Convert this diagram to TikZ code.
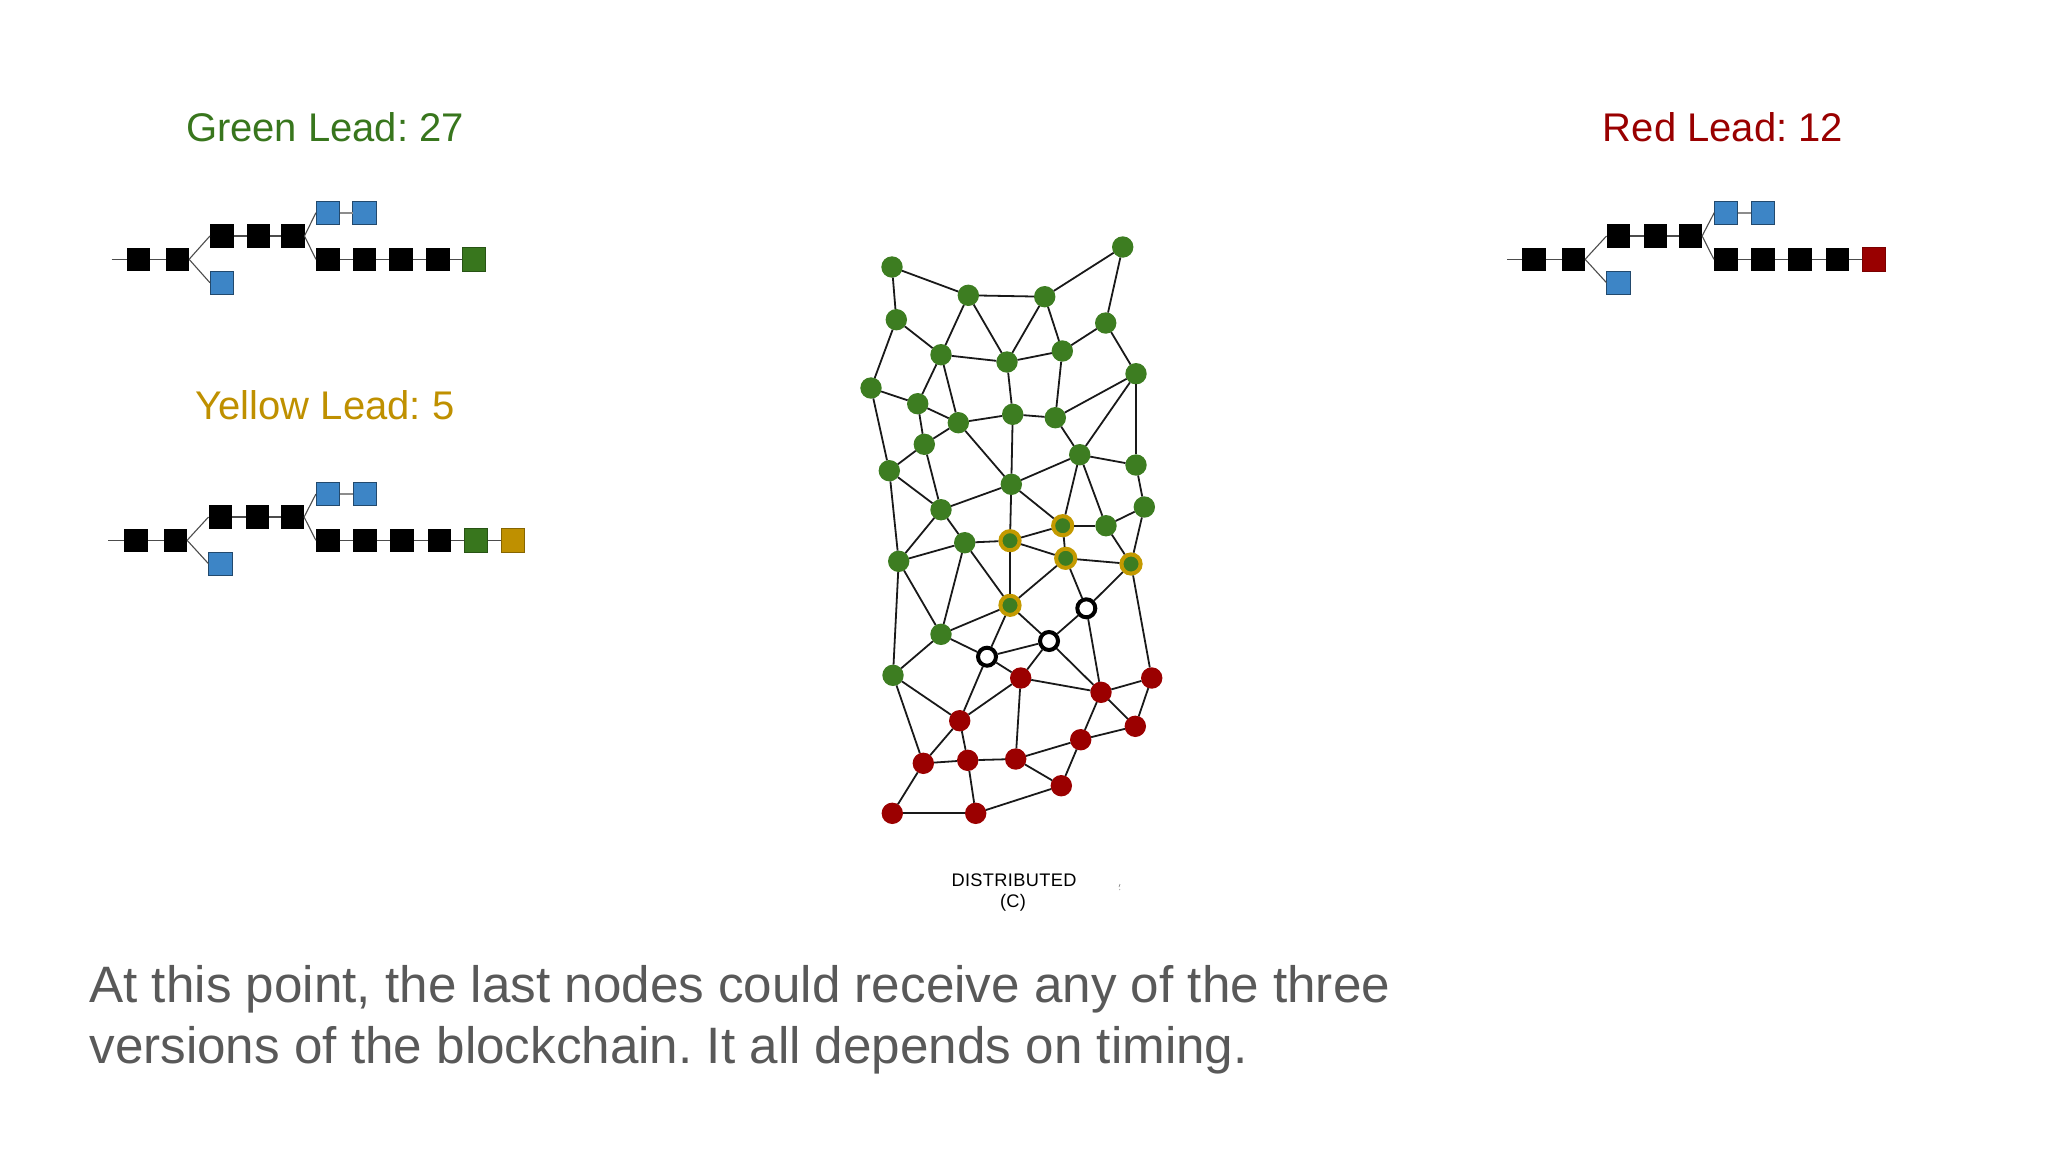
\documentclass[tikz,border=0pt]{standalone}
\usepackage{fontspec}
\setmainfont{Liberation Sans}
\frenchspacing
\definecolor{leadgreen}{HTML}{38761D}
\definecolor{leadred}{HTML}{990000}
\definecolor{leadgold}{HTML}{BF9000}
\definecolor{dotgreen}{HTML}{3D7D21}
\definecolor{dotred}{HTML}{9B0000}
\definecolor{dotgold}{HTML}{C49A00}
\definecolor{chainblue}{HTML}{3D85C6}
\definecolor{bodygray}{HTML}{595959}
\tikzset{
  x=0.5pt,y=-0.5pt,
  gn/.style={circle,fill=dotgreen,minimum size=10.7pt,inner sep=0pt,outer sep=0pt},
  rn/.style={circle,fill=dotred,minimum size=10.7pt,inner sep=0pt,outer sep=0pt},
  yn/.style={circle,fill=dotgreen,draw=dotgold,line width=2pt,minimum size=9.6pt,inner sep=0pt},
  wn/.style={circle,fill=white,draw=black,line width=2pt,minimum size=9pt,inner sep=0pt},
  edge/.style={draw=black!90,line width=0.9pt},
  blk/.style={rectangle,minimum size=11.8pt,inner sep=0pt,outer sep=0pt,line width=0.4pt},
  bk/.style={blk,fill=black},
  bb/.style={blk,fill=chainblue,draw=chainblue!55!black},
  bg/.style={blk,fill=leadgreen,draw=leadgreen!70!black},
  by/.style={blk,fill=leadgold,draw=leadgold!70!black},
  br/.style={blk,fill=leadred,draw=leadred!80!black},
  link/.style={draw=black!70,line width=0.55pt},
  blink/.style={draw=black!45,line width=0.9pt},
  lead/.style={font=\fontsize{20pt}{24pt}\selectfont,inner sep=0pt},
  smallcap/.style={font=\fontsize{9.1pt}{11pt}\selectfont\addfontfeature{LetterSpace=2},inner sep=0pt},
}
\begin{document}
\begin{tikzpicture}
\useasboundingbox (0,0) rectangle (2048,1152);
% network nodes
\foreach \n/\x/\y in {g1/892/267,g2/968.3/295.3,g3/1044.7/296.7,g4/1122.7/247,g5/896.3/319.7,g6/1105.7/323,g7/941/354.7,g8/1007/362,g9/1062.3/351,g10/1136/373.7,g11/871/388,g12/917.7/403.7,g13/958.3/422.7,g14/1012.7/414.3,g15/1055.3/417.7,g16/924.3/444.3,g17/1079.7/454.7,g18/1136/465,g19/889.3/470.7,g20/1011.3/484.3,g21/1144.3/507,g22/941/509.7,g23/1106/525.7,g24/964.7/542.7,g25/898.7/561.3,g26/941/634.3,g27/893/675.3}
  \node[gn] (\n) at (\x,\y) {};
\foreach \n/\x/\y in {y1/1062.7/525.7,y2/1010/540.7,y3/1065.7/558.3,y4/1131/564,y5/1010/605.3}
  \node[yn] (\n) at (\x,\y) {};
\foreach \n/\x/\y in {w1/1086.3/608.3,w2/1049/641,w3/987/656.7}
  \node[wn] (\n) at (\x,\y) {};
\foreach \n/\x/\y in {r1/1020.7/678,r2/1151.7/678,r3/1101/692.3,r4/959.7/720.7,r5/1135.3/726.3,r6/1080.7/739.7,r7/923.3/763.3,r8/967.7/760.3,r9/1015.7/759,r10/1061.3/785.7,r11/892.3/813.3,r12/975.7/813.3}
  \node[rn] (\n) at (\x,\y) {};
% network links
\foreach \a/\b in {g1/g2,g1/g5,g2/g3,g3/g4,g4/g6,g5/g7,g5/g11,g2/g7,g2/g8,g3/g8,g3/g9,g6/g9,g6/g10,g7/g8,g8/g9,g7/g12,g7/g13,g11/g12,g11/g19,g12/g13,g12/g16,g13/g14,g14/g15,g8/g14,g9/g15,g15/g10,g15/g17,g10/g17,g10/g18,g17/g18,g13/g16,g16/g19,g16/g22,g19/g22,g13/g20,g14/g20,g17/g20,g20/g22,g18/g21,g17/y1,g17/g23,g20/y1,g20/y2,g21/g23,g21/y4,g23/y1,g23/y4,y1/y2,y1/y3,y2/y3,y2/g24,y3/y4,g22/g24,g22/g25,g19/g25,g24/g25,y2/y5,y3/y5,g24/y5,g24/g26,g25/g26,g25/g27,g26/g27,g26/y5,g26/w3,y5/w3,y5/w2,w1/y3,w1/y4,w1/w2,w2/w3,w1/r3,y4/r2,w2/r1,w2/r3,w3/r1,w3/r4,r1/r3,r1/r4,r1/r9,r3/r2,r3/r5,r3/r6,r2/r5,r5/r6,r6/r9,r6/r10,r9/r10,r4/g27,g27/r7,r4/r7,r4/r8,r7/r8,r8/r9,r7/r11,r8/r12,r11/r12,r12/r10}
  \draw[edge] (\a) -- (\b);
% green chain
\coordinate (ga0) at (111.7,259.3);
\foreach \n/\s/\x/\y in {ga/bk/138.3/259.3,gb/bk/177.3/259.3,gc/bk/221.7/236,gd/bk/258.3/236,ge/bk/292.7/236,gf/bb/221.7/282.7,gg/bb/327.7/212.7,gh/bb/364.3/212.7,gi/bk/327.7/259.3,gj/bk/364.3/259.3,gk/bk/401/259.3,gl/bk/437.7/259.3,gm/bg/473.7/259.3}
  \node[\s] (\n) at (\x,\y) {};
% yellow chain
\coordinate (ya0) at (108.3,540.3);
\foreach \n/\s/\x/\y in {ya/bk/136/540.3,yb/bk/175.3/540.3,yc/bk/220.3/517,yd/bk/257.3/517,ye/bk/292.3/517,yf/bb/220.3/563.7,yg/bb/327.7/494,yh/bb/365/494,yi/bk/327.7/540.3,yj/bk/365/540.3,yk/bk/402/540.3,yl/bk/439.3/540.3,ym/bg/475.7/540.3,yn/by/513/540.3}
  \node[\s] (\n) at (\x,\y) {};
\draw[link] (yn) -- (ym);
% red chain
\coordinate (ra0) at (1507.3,259.3);
\foreach \n/\s/\x/\y in {ra/bk/1534/259.3,rb/bk/1573.3/259.3,rc/bk/1618.3/236,rd/bk/1655.3/236,re/bk/1690.3/236,rf/bb/1618.3/282.7,rg/bb/1726/212.7,rh/bb/1763/212.7,ri/bk/1725.7/259.3,rj/bk/1763/259.3,rk/bk/1800/259.3,rl/bk/1837.3/259.3,rm/br/1874/259.3}
  \node[\s] (\n) at (\x,\y) {};
% chain links
\foreach \p in {g,y,r}{
  \draw[link] (\p a0) -- (\p a);
  \draw[link] (\p a) -- (\p b);
  \draw[link] (\p b.east) -- (\p c.west);
  \draw[link] (\p b.east) -- (\p f.west);
  \draw[link] (\p c) -- (\p d);
  \draw[link] (\p d) -- (\p e);
  \draw[link] (\p e.east) -- (\p g.west);
  \draw[link] (\p e.east) -- (\p i.west);
  \draw[blink] (\p g) -- (\p h);
  \draw[link] (\p i) -- (\p j);
  \draw[link] (\p j) -- (\p k);
  \draw[link] (\p k) -- (\p l);
  \draw[link] (\p l) -- (\p m);
}
% texts
\node[lead,text=leadgreen] (tgreen) at (325,127) {Green Lead: 27};
\node[lead,text=leadgold] (tyellow) at (325,405) {Yellow Lead: 5};
\node[lead,text=leadred] (tred) at (1723,127) {Red Lead: 12};
\node[smallcap] (dist) at (1014,880) {DISTRIBUTED};
\node[smallcap] (distc) at (1013,903) {(C)};
\draw[black!50,line width=0.3pt] (1120,884) -- (1119,887) (1120,889) -- (1119.5,890);
\node[anchor=north west,align=left,inner sep=0pt,text=bodygray,font=\fontsize{25.6pt}{30.6pt}\selectfont] (body) at (89,965) {At this point, the last nodes could receive any of the three\\versions of the blockchain. It all depends on timing.};
\end{tikzpicture}
\end{document}
